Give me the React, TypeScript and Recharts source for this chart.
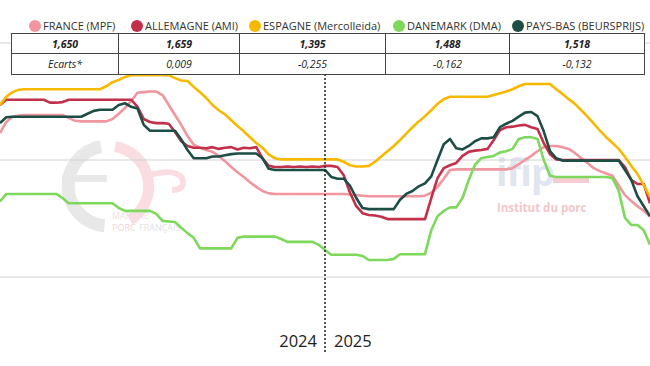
import React from "react";
import { LineChart, Line, XAxis, YAxis, CartesianGrid, ReferenceLine } from "recharts";

// Weekly prices (€/kg), 2024 week 1 -> 2025 week 52 (index 0..104)
const france = [
  1.846, 1.865, 1.874, 1.876, 1.877, 1.877, 1.877, 1.877, 1.877, 1.877,
  1.877, 1.872, 1.867, 1.866, 1.866, 1.866, 1.866, 1.866, 1.870, 1.879,
  1.889, 1.901, 1.915, 1.916, 1.917, 1.917, 1.911, 1.894, 1.877, 1.860,
  1.841, 1.826, 1.821, 1.817, 1.814, 1.807, 1.798, 1.788, 1.779, 1.771,
  1.762, 1.754, 1.747, 1.743, 1.742, 1.742, 1.742, 1.742, 1.742, 1.742,
  1.742, 1.742, 1.742, 1.742, 1.742, 1.742, 1.741, 1.740, 1.739, 1.738,
  1.738, 1.738, 1.738, 1.738, 1.738, 1.738, 1.738, 1.738, 1.739, 1.744,
  1.754, 1.768, 1.783, 1.784, 1.784, 1.784, 1.784, 1.784, 1.784, 1.784,
  1.784, 1.784, 1.786, 1.793, 1.800, 1.807, 1.815, 1.822, 1.824, 1.824,
  1.822, 1.819, 1.812, 1.803, 1.795, 1.786, 1.781, 1.777, 1.773, 1.756,
  1.740, 1.730, 1.721, 1.713, 1.703,
];

const allemagne = [
  1.894, 1.903, 1.903, 1.903, 1.903, 1.903, 1.903, 1.903, 1.898, 1.898,
  1.899, 1.903, 1.903, 1.903, 1.903, 1.903, 1.903, 1.903, 1.903, 1.903,
  1.903, 1.903, 1.891, 1.870, 1.865, 1.863, 1.863, 1.862, 1.848, 1.832,
  1.824, 1.821, 1.821, 1.820, 1.822, 1.819, 1.821, 1.822, 1.818, 1.821,
  1.820, 1.822, 1.803, 1.790, 1.788, 1.788, 1.789, 1.788, 1.789, 1.788,
  1.789, 1.788, 1.790, 1.790, 1.788, 1.774, 1.744, 1.721, 1.709, 1.706,
  1.705, 1.703, 1.699, 1.699, 1.699, 1.699, 1.699, 1.699, 1.699, 1.735,
  1.769, 1.786, 1.791, 1.795, 1.807, 1.814, 1.816, 1.817, 1.819, 1.834,
  1.851, 1.856, 1.857, 1.859, 1.860, 1.856, 1.853, 1.829, 1.810, 1.801,
  1.800, 1.800, 1.800, 1.800, 1.800, 1.800, 1.800, 1.800, 1.800, 1.800,
  1.788, 1.766, 1.759, 1.759, 1.726,
];

const espagne = [
  1.894, 1.908, 1.916, 1.920, 1.921, 1.921, 1.921, 1.921, 1.921, 1.921,
  1.921, 1.921, 1.921, 1.921, 1.921, 1.921, 1.921, 1.926, 1.933, 1.937,
  1.942, 1.945, 1.945, 1.945, 1.945, 1.945, 1.945, 1.945, 1.940, 1.936,
  1.935, 1.925, 1.916, 1.906, 1.894, 1.885, 1.878, 1.868, 1.858, 1.849,
  1.839, 1.829, 1.821, 1.809, 1.803, 1.801, 1.801, 1.801, 1.801, 1.801,
  1.801, 1.801, 1.801, 1.801, 1.801, 1.797, 1.791, 1.789, 1.789, 1.790,
  1.797, 1.806, 1.815, 1.824, 1.834, 1.845, 1.856, 1.866, 1.875, 1.885,
  1.896, 1.904, 1.908, 1.908, 1.908, 1.908, 1.908, 1.908, 1.908, 1.911,
  1.914, 1.917, 1.921, 1.926, 1.930, 1.930, 1.930, 1.930, 1.930, 1.921,
  1.913, 1.904, 1.896, 1.885, 1.874, 1.862, 1.850, 1.839, 1.829, 1.819,
  1.805, 1.790, 1.776, 1.757, 1.737,
];

const danemark = [
  1.729, 1.742, 1.742, 1.742, 1.742, 1.742, 1.742, 1.742, 1.742, 1.742,
  1.735, 1.726, 1.726, 1.726, 1.726, 1.726, 1.726, 1.726, 1.726, 1.718,
  1.713, 1.713, 1.713, 1.713, 1.713, 1.708, 1.696, 1.695, 1.694, 1.684,
  1.675, 1.667, 1.649, 1.649, 1.649, 1.649, 1.649, 1.649, 1.667, 1.669,
  1.669, 1.669, 1.669, 1.669, 1.669, 1.665, 1.660, 1.660, 1.660, 1.660,
  1.660, 1.655, 1.646, 1.638, 1.638, 1.638, 1.638, 1.638, 1.636, 1.629,
  1.629, 1.629, 1.629, 1.631, 1.639, 1.639, 1.639, 1.639, 1.639, 1.680,
  1.704, 1.713, 1.719, 1.719, 1.735, 1.766, 1.792, 1.803, 1.805, 1.807,
  1.813, 1.815, 1.819, 1.836, 1.839, 1.839, 1.836, 1.800, 1.773, 1.771,
  1.771, 1.771, 1.771, 1.771, 1.771, 1.771, 1.771, 1.771, 1.769, 1.747,
  1.701, 1.689, 1.689, 1.680, 1.655,
];

const paysBas = [
  1.863, 1.873, 1.874, 1.874, 1.874, 1.874, 1.874, 1.874, 1.874, 1.874,
  1.874, 1.874, 1.874, 1.874, 1.879, 1.884, 1.886, 1.886, 1.886, 1.894,
  1.897, 1.891, 1.888, 1.860, 1.850, 1.850, 1.850, 1.850, 1.850, 1.835,
  1.817, 1.803, 1.803, 1.803, 1.806, 1.806, 1.808, 1.810, 1.811, 1.811,
  1.811, 1.811, 1.803, 1.785, 1.783, 1.783, 1.783, 1.783, 1.783, 1.783,
  1.783, 1.783, 1.783, 1.771, 1.768, 1.768, 1.756, 1.735, 1.718, 1.716,
  1.716, 1.716, 1.716, 1.716, 1.732, 1.742, 1.747, 1.755, 1.760, 1.772,
  1.800, 1.827, 1.836, 1.820, 1.818, 1.824, 1.832, 1.837, 1.837, 1.839,
  1.856, 1.862, 1.867, 1.874, 1.881, 1.882, 1.875, 1.849, 1.815, 1.803,
  1.799, 1.799, 1.799, 1.799, 1.799, 1.799, 1.799, 1.799, 1.799, 1.799,
  1.783, 1.766, 1.738, 1.721, 1.704,
];

const seriesNames = [
  "FRANCE (MPF)",
  "ALLEMAGNE (AMI)",
  "ESPAGNE (Mercolleida)",
  "DANEMARK (DMA)",
  "PAYS-BAS (BEURSPRIJS)",
];
const seriesKeys = ["france", "allemagne", "espagne", "danemark", "paysBas"];
const seriesColors = ["#F1959F", "#C2304A", "#F7B900", "#7ED85C", "#1D4E46"];
const latestValues = ["1,650", "1,659", "1,395", "1,488", "1,518"];
const ecarts = ["Ecarts*", "0,009", "-0,255", "-0,162", "-0,132"];
const yearLabels = ["2024", "2025"];
const yearBoundaryWeek = 52;
const gridValues = [1.6, 1.8, 2.0];

const seriesValues: number[][] = [france, allemagne, espagne, danemark, paysBas];
const data = france.map((_, i) => {
  const row: Record<string, number> = { week: i };
  seriesKeys.forEach((k, s) => {
    row[k] = seriesValues[s][i];
  });
  return row;
});

// layout
const legendCx = [35, 137, 255, 399, 518];
const colEdges = [11, 117, 237, 382, 505, 639];
const FONT = "'Open Sans', 'Noto Sans', sans-serif";

function Watermarks() {
  return (
    <svg width={650} height={366} style={{ position: "absolute", left: 0, top: 0 }}>
      <path d="M 101 146.6 A 40 40 0 0 0 104.5 225.8" fill="none" stroke="#e8e8e8" strokeWidth={13} />
      <rect x={62} y={175} width={45} height={7} fill="#e8e8e8" />
      <path d="M 115 146.6 A 40 40 0 0 1 130 220" fill="none" stroke="#f9dde1" strokeWidth={11} />
      <path d="M 150 175 Q 175 168 182 178 Q 186 190 172 190" fill="none" stroke="#f9dde1" strokeWidth={6} />
      <text x={112} y={219} fontSize={9} fill="#ecdfe4" fontFamily={FONT}>MARCHE</text>
      <text x={112} y={231} fontSize={9} fill="#f7d3d8" fontFamily={FONT}>PORC</text>
      <text x={139} y={231} fontSize={9} fill="#e3e3e3" fontFamily={FONT}>FRANÇAIS</text>
      <text x={496} y={186} fontSize={38} fontWeight={700} fill="#dfe6ef" fontFamily={FONT} letterSpacing={-1}>ifip</text>
      <rect x={553} y={177} width={36} height={6} fill="#f6cbd2" />
      <text x={497} y={212} fontSize={11.5} fontWeight={700} fill="#f3c6cd" fontFamily={FONT}>Institut du porc</text>
    </svg>
  );
}

export default function App() {
  return (
    <div
      style={{
        position: "absolute",
        left: 0,
        top: 0,
        width: 650,
        height: 366,
        overflow: "hidden",
        background: "#fff",
        fontFamily: FONT,
      }}
    >
      <Watermarks />
      <div style={{ position: "absolute", left: 0, top: 0 }}>
        <LineChart
          width={650}
          height={366}
          data={data}
          margin={{ top: 13.75, right: 0, bottom: 1.25, left: 0 }}
        >
          <CartesianGrid vertical={false} stroke="#d2d2d2" horizontalValues={gridValues} />
          <XAxis dataKey="week" type="number" domain={[0, 104]} hide />
          <YAxis type="number" domain={[1.45, 2.05]} ticks={gridValues} hide allowDataOverflow />
          {seriesKeys.map((k, s) => (
            <Line
              key={k}
              dataKey={k}
              type="linear"
              stroke={seriesColors[s]}
              strokeWidth={2.6}
              dot={false}
              activeDot={false}
              strokeLinejoin="round"
              isAnimationActive={false}
            />
          ))}
          <ReferenceLine
            segment={[
              { x: yearBoundaryWeek, y: 1.472 },
              { x: yearBoundaryWeek, y: 1.95 },
            ]}
            stroke="#222"
            strokeDasharray="2 2"
            strokeWidth={1.5}
          />
        </LineChart>
      </div>

      {/* legend */}
      {seriesNames.map((n, s) => (
        <div key={n}>
          <div
            style={{
              position: "absolute",
              left: legendCx[s] - 6,
              top: 20,
              width: 12,
              height: 12,
              borderRadius: 6,
              background: seriesColors[s],
            }}
          />
          <div
            style={{
              position: "absolute",
              left: legendCx[s] + 8,
              top: 18,
              fontSize: 11,
              lineHeight: "16px",
              color: "#333",
              whiteSpace: "nowrap",
            }}
          >
            {n}
          </div>
        </div>
      ))}

      {/* table */}
      <table
        style={{
          position: "absolute",
          left: colEdges[0],
          top: 33,
          width: colEdges[5] - colEdges[0],
          borderCollapse: "collapse",
          background: "#fff",
          tableLayout: "fixed",
          fontSize: 10.5,
          color: "#222",
        }}
      >
        <tbody>
          <tr style={{ height: 20 }}>
            {latestValues.map((v, c) => (
              <td
                key={c}
                style={{
                  width: colEdges[c + 1] - colEdges[c],
                  border: "1px solid #444",
                  textAlign: "center",
                  fontWeight: 700,
                  fontStyle: "italic",
                  padding: 0,
                  lineHeight: "18px",
                }}
              >
                {v}
              </td>
            ))}
          </tr>
          <tr style={{ height: 21 }}>
            {ecarts.map((v, c) => (
              <td
                key={c}
                style={{
                  border: "1px solid #444",
                  textAlign: "center",
                  fontStyle: "italic",
                  padding: 0,
                  lineHeight: "19px",
                }}
              >
                {v}
              </td>
            ))}
          </tr>
        </tbody>
      </table>

      {/* year labels */}
      <div
        style={{
          position: "absolute",
          left: 257,
          width: 60,
          top: 329,
          textAlign: "right",
          fontSize: 16.5,
          color: "#222",
        }}
      >
        {yearLabels[0]}
      </div>
      <div
        style={{
          position: "absolute",
          left: 334,
          top: 329,
          fontSize: 16.5,
          color: "#222",
        }}
      >
        {yearLabels[1]}
      </div>
    </div>
  );
}
